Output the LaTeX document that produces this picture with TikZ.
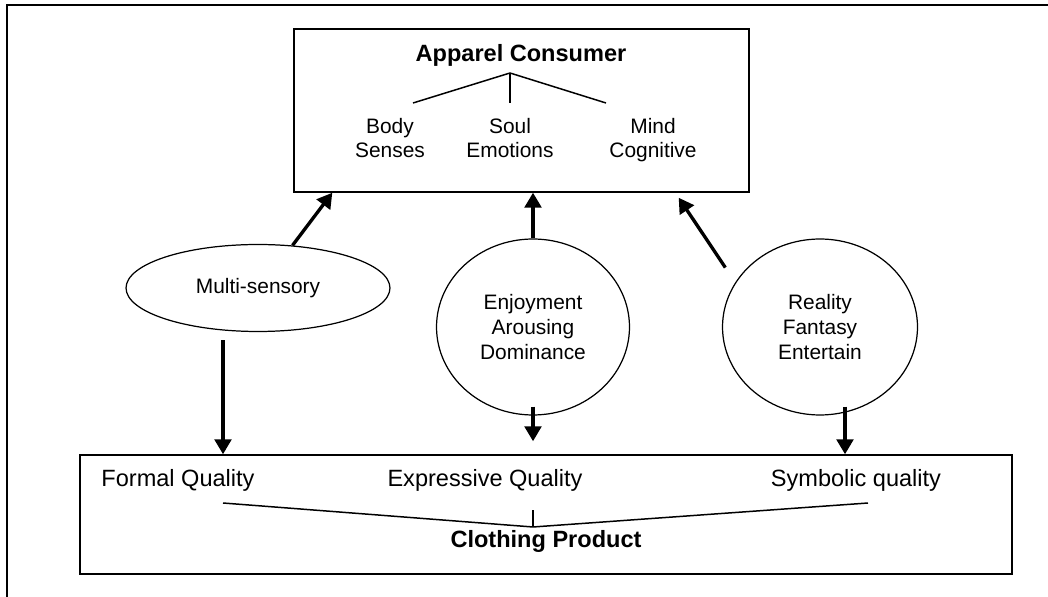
\documentclass[tikz,border=0pt]{standalone}
\usepackage{fontspec}
\setmainfont{Liberation Sans}
\usetikzlibrary{arrows.meta,shapes.geometric}

\newcommand{\itemsize}{\fontsize{11.9}{14.2}\selectfont}
\newcommand{\labelsize}{\fontsize{13.4}{16}\selectfont}

\begin{document}
\begin{tikzpicture}[x=0.02cm,y=-0.02cm,line width=0.85pt,>={Triangle[length=8.5pt,width=9.5pt]},
	box/.style={draw=black, inner sep=0pt},
	oval/.style={draw=black, ellipse, line width=0.7pt, inner sep=0pt, align=center, font=\itemsize},
	item/.style={align=center, font=\itemsize, anchor=base},
	label/.style={font=\labelsize},
	arr/.style={->, line width=1.9pt}]
		\useasboundingbox (0,0) rectangle (1048,597);
		\draw (7,597) -- (7,5) -- (1048,5);
		\node[box, minimum width=9.1cm, minimum height=3.26cm] (consumer) at (521.5,110.5) {};
		\node[label] (cname) at (521,55) {\textbf{Apparel Consumer}};
		\coordinate (croot) at (510,73);
		\draw (croot) -- ++(-97,30); \draw (croot) -- ++(0,30); \draw (croot) -- ++(96,30);
		\node[item] (body) at (390,158) {Body\\Senses};
		\node[item] (soul) at (510,158) {Soul\\Emotions};
		\node[item] (mind) at (653,158) {Mind\\Cognitive};
		\node[box, minimum width=18.64cm, minimum height=2.38cm] (product) at (546,514.5) {};
		\node[label] (formal) at (178,480) {Formal Quality};
		\node[label] (expressive) at (485,480) {Expressive Quality};
		\node[label] (symbolic) at (856,480) {Symbolic quality};
		\node[label] (pname) at (546,541) {\textbf{Clothing Product}};
		\coordinate (proot) at (533,527);
		\draw (proot) -- (223,503); \draw (proot) -- (533,510); \draw (proot) -- (868,503);
		\node[oval, minimum width=5.28cm, minimum height=1.74cm] (sensory) at (258,288) {Multi-sensory};
			\draw[arr] (sensory.51) -- ([xshift=0.78cm]consumer.south west);
			\draw[arr] ([shift={(-35,8)}]sensory.south) coordinate (s1) -- (s1 |- product.north);
		\node[oval, minimum width=3.86cm, minimum height=3.52cm] (emotion) at (533,327) {Enjoyment\\Arousing\\Dominance};
			\draw[arr] (emotion.north) -- (emotion.north |- consumer.south);
			\draw[arr] ([shift={(0,-9)}]emotion.south) -- ([shift={(0,-13)}]emotion.south |- product.north);
		\node[oval, minimum width=3.9cm, minimum height=3.52cm] (fantasy) at (820,327) {Reality\\Fantasy\\Entertain};
			\draw[arr] ([shift={(-14,-9)}]fantasy.148) -- ([shift={(-71,5)}]consumer.south east);
			\draw[arr] ([shift={(25,-9)}]fantasy.south) coordinate (f1) -- (f1 |- product.north);
	\end{tikzpicture}
\end{document}
